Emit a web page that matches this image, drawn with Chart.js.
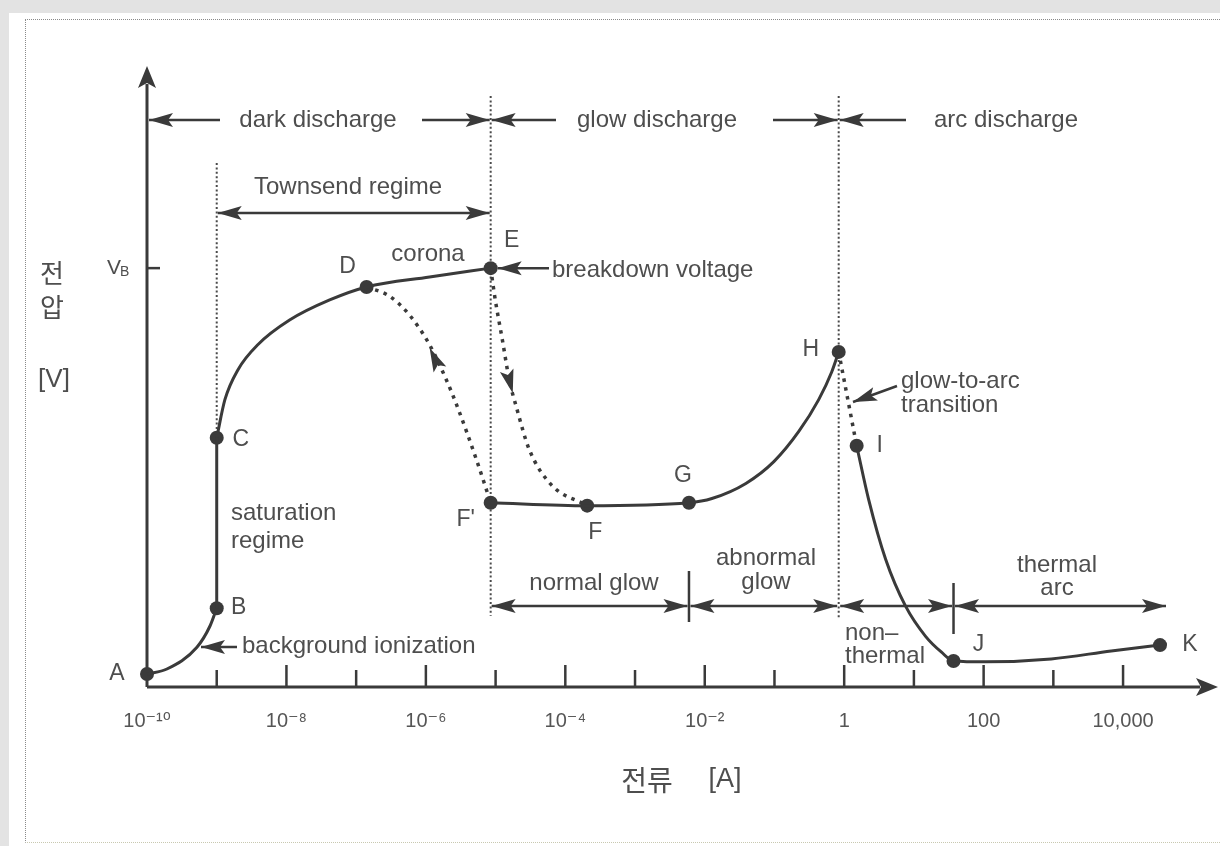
<!DOCTYPE html>
<html><head><meta charset="utf-8">
<script src="https://cdn.jsdelivr.net/npm/chart.js@4.4.0/dist/chart.umd.min.js"></script>
<style>
html,body{margin:0;padding:0;background:#e3e3e3;width:1220px;height:846px;overflow:hidden;}
#paper{position:absolute;left:9px;top:13px;width:1211px;height:833px;background:#fff;}
#frame{position:absolute;left:16px;top:6px;width:1220px;height:822px;border-left:1px dotted #8a8a8a;border-top:1px dotted #8a8a8a;border-bottom:1px dotted #c8c8b0;}
#wrap{position:absolute;left:0;top:0;width:1220px;height:846px;}
</style></head><body>
<div id="paper"><div id="frame"></div></div>
<div id="wrap"><canvas id="c" width="1220" height="846"></canvas></div>
<script>
// ---------- data (current in A, voltage in relative units, V_B = 100) ----------
const decadeExponents = [-10,-9,-8,-7,-6,-5,-4,-3,-2,-1,0,1,2,3,4,5];
const decadeLabels = ['10\u207B\u00B9\u2070','','10\u207B\u2078','','10\u207B\u2076','','10\u207B\u2074','','10\u207B\u00B2','','1','','100','','10,000',''];

const pointNames   = ['A','B','C','D','E',"F'",'F','G','H','I','J','K'];
const pointCurrent = [1e-10,1e-9,1e-9,1.41e-7,8.5e-6,8.5e-6,2.06e-4,5.94e-3,0.834,1.51,37.0,33900];
const pointVoltage = [3.1,18.8,59.5,95.5,100,44.0,43.3,44.0,80.0,57.6,6.2,10.0];

// solid curve pieces
const curAB  = [1e-10,1.93e-10,5.2e-10,7.98e-10,1e-9];
const voltAB = [3.1,4.3,9.5,14.5,18.8];
const curBC  = [1e-9,1e-9];
const voltBC = [18.8,59.5];
const curCE  = [1e-9,1.31e-9,2.01e-9,3.88e-9,1.11e-8,4.17e-8,1.41e-7,1.13e-6,8.5e-6];
const voltCE = [59.5,68.6,75.7,81.7,87.6,92.4,95.5,97.9,100];
const curFH  = [8.5e-6,2.06e-4,5.94e-3,0.01267,0.0389,0.0980,0.2233,0.431,0.662,0.834];
const voltFH = [44.0,43.3,44.0,45.0,48.6,53.8,61.0,68.6,75.2,80.0];
const curIK  = [1.51,2.24,3.93,7.59,14.7,24.9,37.0,106,933,6760,33900];
const voltIK = [57.6,44.8,30.5,19.3,12.1,8.3,6.2,6.0,6.7,8.6,10.0];
// dotted transitions
const curEF  = [8.5e-6,9.9e-6,1.25e-5,1.57e-5,1.98e-5,3.04e-5,6.28e-5,2.06e-4];
const voltEF = [100,92.4,82.9,73.3,66.9,56.7,48.3,43.3];
const curDF  = [1.41e-7,3.01e-7,5.82e-7,1.13e-6,1.97e-6,2.83e-6,5.3e-6,8.5e-6];
const voltDF = [95.5,93.3,88.8,81.7,73.3,66.9,54.3,44.0];
const curHI  = [0.834,1.51];
const voltHI = [80.0,57.6];

const pts = (xs, ys) => xs.map((x, i) => ({x, y: ys[i]}));

// ---------- styles ----------
const INK = '#3a3a3a';
const TXT = '#4e4e4e';
const LATIN = '"Liberation Sans", Arial, "DejaVu Sans", sans-serif';
const KOREAN = '"Noto Sans CJK KR", "Noto Sans", sans-serif';

function solid(data){ return {data, showLine:true, borderColor:INK, borderWidth:3, pointRadius:0,
  tension:0.4, cubicInterpolationMode:'monotone', clip:false}; }
function dotted(data){ return {data, showLine:true, borderColor:INK, borderWidth:3.5, borderDash:[3.5,5.5],
  pointRadius:0, tension:0.4, cubicInterpolationMode:'monotone', clip:false}; }

const labelOffsets = {A:[-30,0],B:[22,-1],C:[24,2],D:[-19,-20],E:[21,-27],"F'":[-25,17],F:[8,27],
  G:[-6,-27],H:[-28,-2],I:[23,0],J:[25,-16],K:[30,0]};

function arrowHead(ctx, tx, ty, ang, len, hw){
  len = len || 24; hw = hw || 7;
  const c = Math.cos(ang), s = Math.sin(ang);
  const bx = tx - len*c, by = ty - len*s;
  ctx.beginPath();
  ctx.moveTo(tx, ty);
  ctx.lineTo(bx + hw*s, by - hw*c);
  ctx.lineTo(tx - (len-5)*c, ty - (len-5)*s);
  ctx.lineTo(bx - hw*s, by + hw*c);
  ctx.closePath();
  ctx.fill();
}
function arrowLine(ctx, x1, y1, x2, y2){
  ctx.beginPath(); ctx.moveTo(x1, y1); ctx.lineTo(x2, y2); ctx.stroke();
  arrowHead(ctx, x2, y2, Math.atan2(y2-y1, x2-x1));
}
function dblArrow(ctx, x1, x2, y){
  ctx.beginPath(); ctx.moveTo(x1, y); ctx.lineTo(x2, y); ctx.stroke();
  arrowHead(ctx, x1, y, Math.PI); arrowHead(ctx, x2, y, 0);
}
function text(ctx, t, x, y, align, size, fam){
  ctx.font = (size||23) + 'px ' + (fam||LATIN);
  ctx.textAlign = align || 'center';
  ctx.textBaseline = 'middle';
  ctx.fillText(t, x, y);
}

const decor = {
  id:'decor',
  beforeDatasetsDraw(chart){
    const {ctx} = chart, xs = chart.scales.x, ys = chart.scales.y;
    const X = v => xs.getPixelForValue(v), Y = v => ys.getPixelForValue(v);
    const x0 = X(1e-10), y0 = Y(0);
    ctx.save();
    // regime boundaries (dotted)
    ctx.strokeStyle = '#4a4a4a'; ctx.lineWidth = 2; ctx.setLineDash([2,2.4]);
    const vline = (x, ya, yb) => { ctx.beginPath(); ctx.moveTo(x, ya); ctx.lineTo(x, yb); ctx.stroke(); };
    vline(X(pointCurrent[1]), 163, Y(pointVoltage[2]));
    vline(X(pointCurrent[4]), 96, 616);
    vline(X(pointCurrent[8]), 96, 618);
    ctx.setLineDash([]);
    // axes
    ctx.strokeStyle = INK; ctx.fillStyle = INK; ctx.lineWidth = 3;
    ctx.beginPath(); ctx.moveTo(x0, y0); ctx.lineTo(x0, 84); ctx.stroke();
    arrowHead(ctx, x0, 66, -Math.PI/2, 22, 9);
    ctx.beginPath(); ctx.moveTo(x0, y0); ctx.lineTo(1200, y0); ctx.stroke();
    arrowHead(ctx, 1218, y0, 0, 22, 9);
    // decade ticks (inward)
    ctx.lineWidth = 2.5;
    decadeExponents.forEach((e, i) => {
      if (e <= -10 || e >= 5) return;
      const x = X(Math.pow(10, e));
      const h = decadeLabels[i] ? 22 : 17;
      ctx.beginPath(); ctx.moveTo(x, y0); ctx.lineTo(x, y0 - h); ctx.stroke();
    });
    // V_B tick
    ctx.beginPath(); ctx.moveTo(x0, Y(100)); ctx.lineTo(x0 + 13, Y(100)); ctx.stroke();
    ctx.restore();
  },
  afterDatasetsDraw(chart){
    const {ctx} = chart, xs = chart.scales.x, ys = chart.scales.y;
    const X = v => xs.getPixelForValue(v), Y = v => ys.getPixelForValue(v);
    const xA = X(pointCurrent[0]), xB = X(pointCurrent[1]), xE = X(pointCurrent[4]);
    const xG = X(pointCurrent[7]), xH = X(pointCurrent[8]), xJ = X(pointCurrent[10]);
    ctx.save();
    ctx.strokeStyle = INK; ctx.fillStyle = INK; ctx.lineWidth = 2.5;
    // top regime arrows
    arrowLine(ctx, 220, 120, xA + 2, 120);
    arrowLine(ctx, 422, 120, xE - 1, 120);
    arrowLine(ctx, 556, 120, xE + 1, 120);
    arrowLine(ctx, 773, 120, xH - 1, 120);
    arrowLine(ctx, 906, 120, xH + 1, 120);
    dblArrow(ctx, xB + 1, xE - 1, 213);
    // pointer arrows
    arrowLine(ctx, 549, Y(100), xE + 7, Y(100));
    arrowLine(ctx, 237, 647, 201, 647);
    arrowLine(ctx, 897, 386, 853, 402);
    // lower regime arrows
    dblArrow(ctx, xE + 1, xG - 1.5, 606);
    dblArrow(ctx, xG + 1.5, xH - 1.5, 606);
    dblArrow(ctx, xH + 1.5, xJ - 1.5, 606);
    dblArrow(ctx, xJ + 1.5, 1166, 606);
    ctx.beginPath(); ctx.moveTo(xG, 571); ctx.lineTo(xG, 622); ctx.stroke();
    ctx.beginPath(); ctx.moveTo(xJ, 583); ctx.lineTo(xJ, 634); ctx.stroke();
    // direction arrows on dotted transitions
    const a1 = [X(curEF[3]), Y(voltEF[3])], a1b = [X(curEF[4]), Y(voltEF[4])];
    arrowHead(ctx, (a1[0]+a1b[0])/2, (a1[1]+a1b[1])/2, Math.atan2(a1b[1]-a1[1], a1b[0]-a1[0]), 24, 7);
    const a2 = [X(curDF[4]), Y(voltDF[4])], a2b = [X(curDF[3]), Y(voltDF[3])];
    arrowHead(ctx, a2b[0], a2b[1]+3, Math.atan2(a2b[1]-a2[1], a2b[0]-a2[0]), 24, 7);

    // texts
    ctx.fillStyle = TXT;
    text(ctx, 'dark discharge', 318, 120, 'center', 24);
    text(ctx, 'glow discharge', 657, 120, 'center', 24);
    text(ctx, 'arc discharge', 1006, 120, 'center', 24);
    text(ctx, 'Townsend regime', 348, 187, 'center', 24);
    text(ctx, 'corona', 428, 254, 'center', 24);
    text(ctx, 'breakdown voltage', 552, 270, 'left', 24);
    text(ctx, 'saturation', 231, 513, 'left', 24);
    text(ctx, 'regime', 231, 541, 'left', 24);
    text(ctx, 'background ionization', 242, 646, 'left', 24);
    text(ctx, 'glow-to-arc', 901, 381, 'left', 24);
    text(ctx, 'transition', 901, 405, 'left', 24);
    text(ctx, 'normal glow', 594, 583, 'center', 24);
    text(ctx, 'abnormal', 766, 558, 'center', 24);
    text(ctx, 'glow', 766, 582, 'center', 24);
    text(ctx, 'non\u2013', 845, 633, 'left', 24);
    text(ctx, 'thermal', 845, 656, 'left', 24);
    text(ctx, 'thermal', 1057, 565, 'center', 24);
    text(ctx, 'arc', 1057, 588, 'center', 24);
    // point letters
    pointNames.forEach((n, i) => {
      const o = labelOffsets[n];
      text(ctx, n, X(pointCurrent[i]) + o[0], Y(pointVoltage[i]) + o[1], 'center', 23);
    });
    // V_B
    ctx.textAlign = 'left';
    ctx.font = '21px ' + LATIN; ctx.fillText('V', 107, Y(100));
    ctx.font = '14px ' + LATIN; ctx.fillText('B', 120, Y(100) + 4);
    // axis titles
    text(ctx, '\uC804', 52, 273, 'center', 26, KOREAN);
    text(ctx, '\uC555', 52, 307, 'center', 26, KOREAN);
    text(ctx, '[V]', 54, 380, 'center', 26);
    text(ctx, '\uC804\uB958', 647, 780, 'center', 28, KOREAN);
    text(ctx, '[A]', 725, 780, 'center', 27);
    ctx.restore();
  }
};

new Chart(document.getElementById('c'), {
  type:'scatter',
  data:{ datasets:[
    solid(pts(curAB, voltAB)),
    {...solid(pts(curBC, voltBC)), tension:0, cubicInterpolationMode:'default'},
    solid(pts(curCE, voltCE)),
    solid(pts(curFH, voltFH)),
    solid(pts(curIK, voltIK)),
    dotted(pts(curEF, voltEF)),
    dotted(pts(curDF, voltDF)),
    {...dotted(pts(curHI, voltHI)), tension:0, cubicInterpolationMode:'default'},
    {data: pts(pointCurrent, pointVoltage), showLine:false, pointRadius:7, pointHoverRadius:7,
     backgroundColor:INK, borderColor:INK, borderWidth:0, clip:false}
  ]},
  options:{
    responsive:false, animation:false, events:[],
    layout:{padding:{left:147, right:5, top:70, bottom:99}},
    plugins:{legend:{display:false}, tooltip:{enabled:false}},
    scales:{
      x:{ type:'logarithmic', min:1e-10, max:Math.pow(10,5.29),
        afterBuildTicks: s => { s.ticks = decadeExponents.map(e => ({value: Math.pow(10, e)})); },
        afterFit: s => { s.height = 60; },
        grid:{display:false, drawTicks:false}, border:{display:false},
        ticks:{autoSkip:false, maxRotation:0, minRotation:0, padding:22, color:'#555',
          font:{family:LATIN, size:20}, callback:(v, i) => decadeLabels[i]} },
      y:{ type:'linear', min:0, max:147.3, display:false }
    }
  },
  plugins:[decor]
});
</script>
</body></html>
